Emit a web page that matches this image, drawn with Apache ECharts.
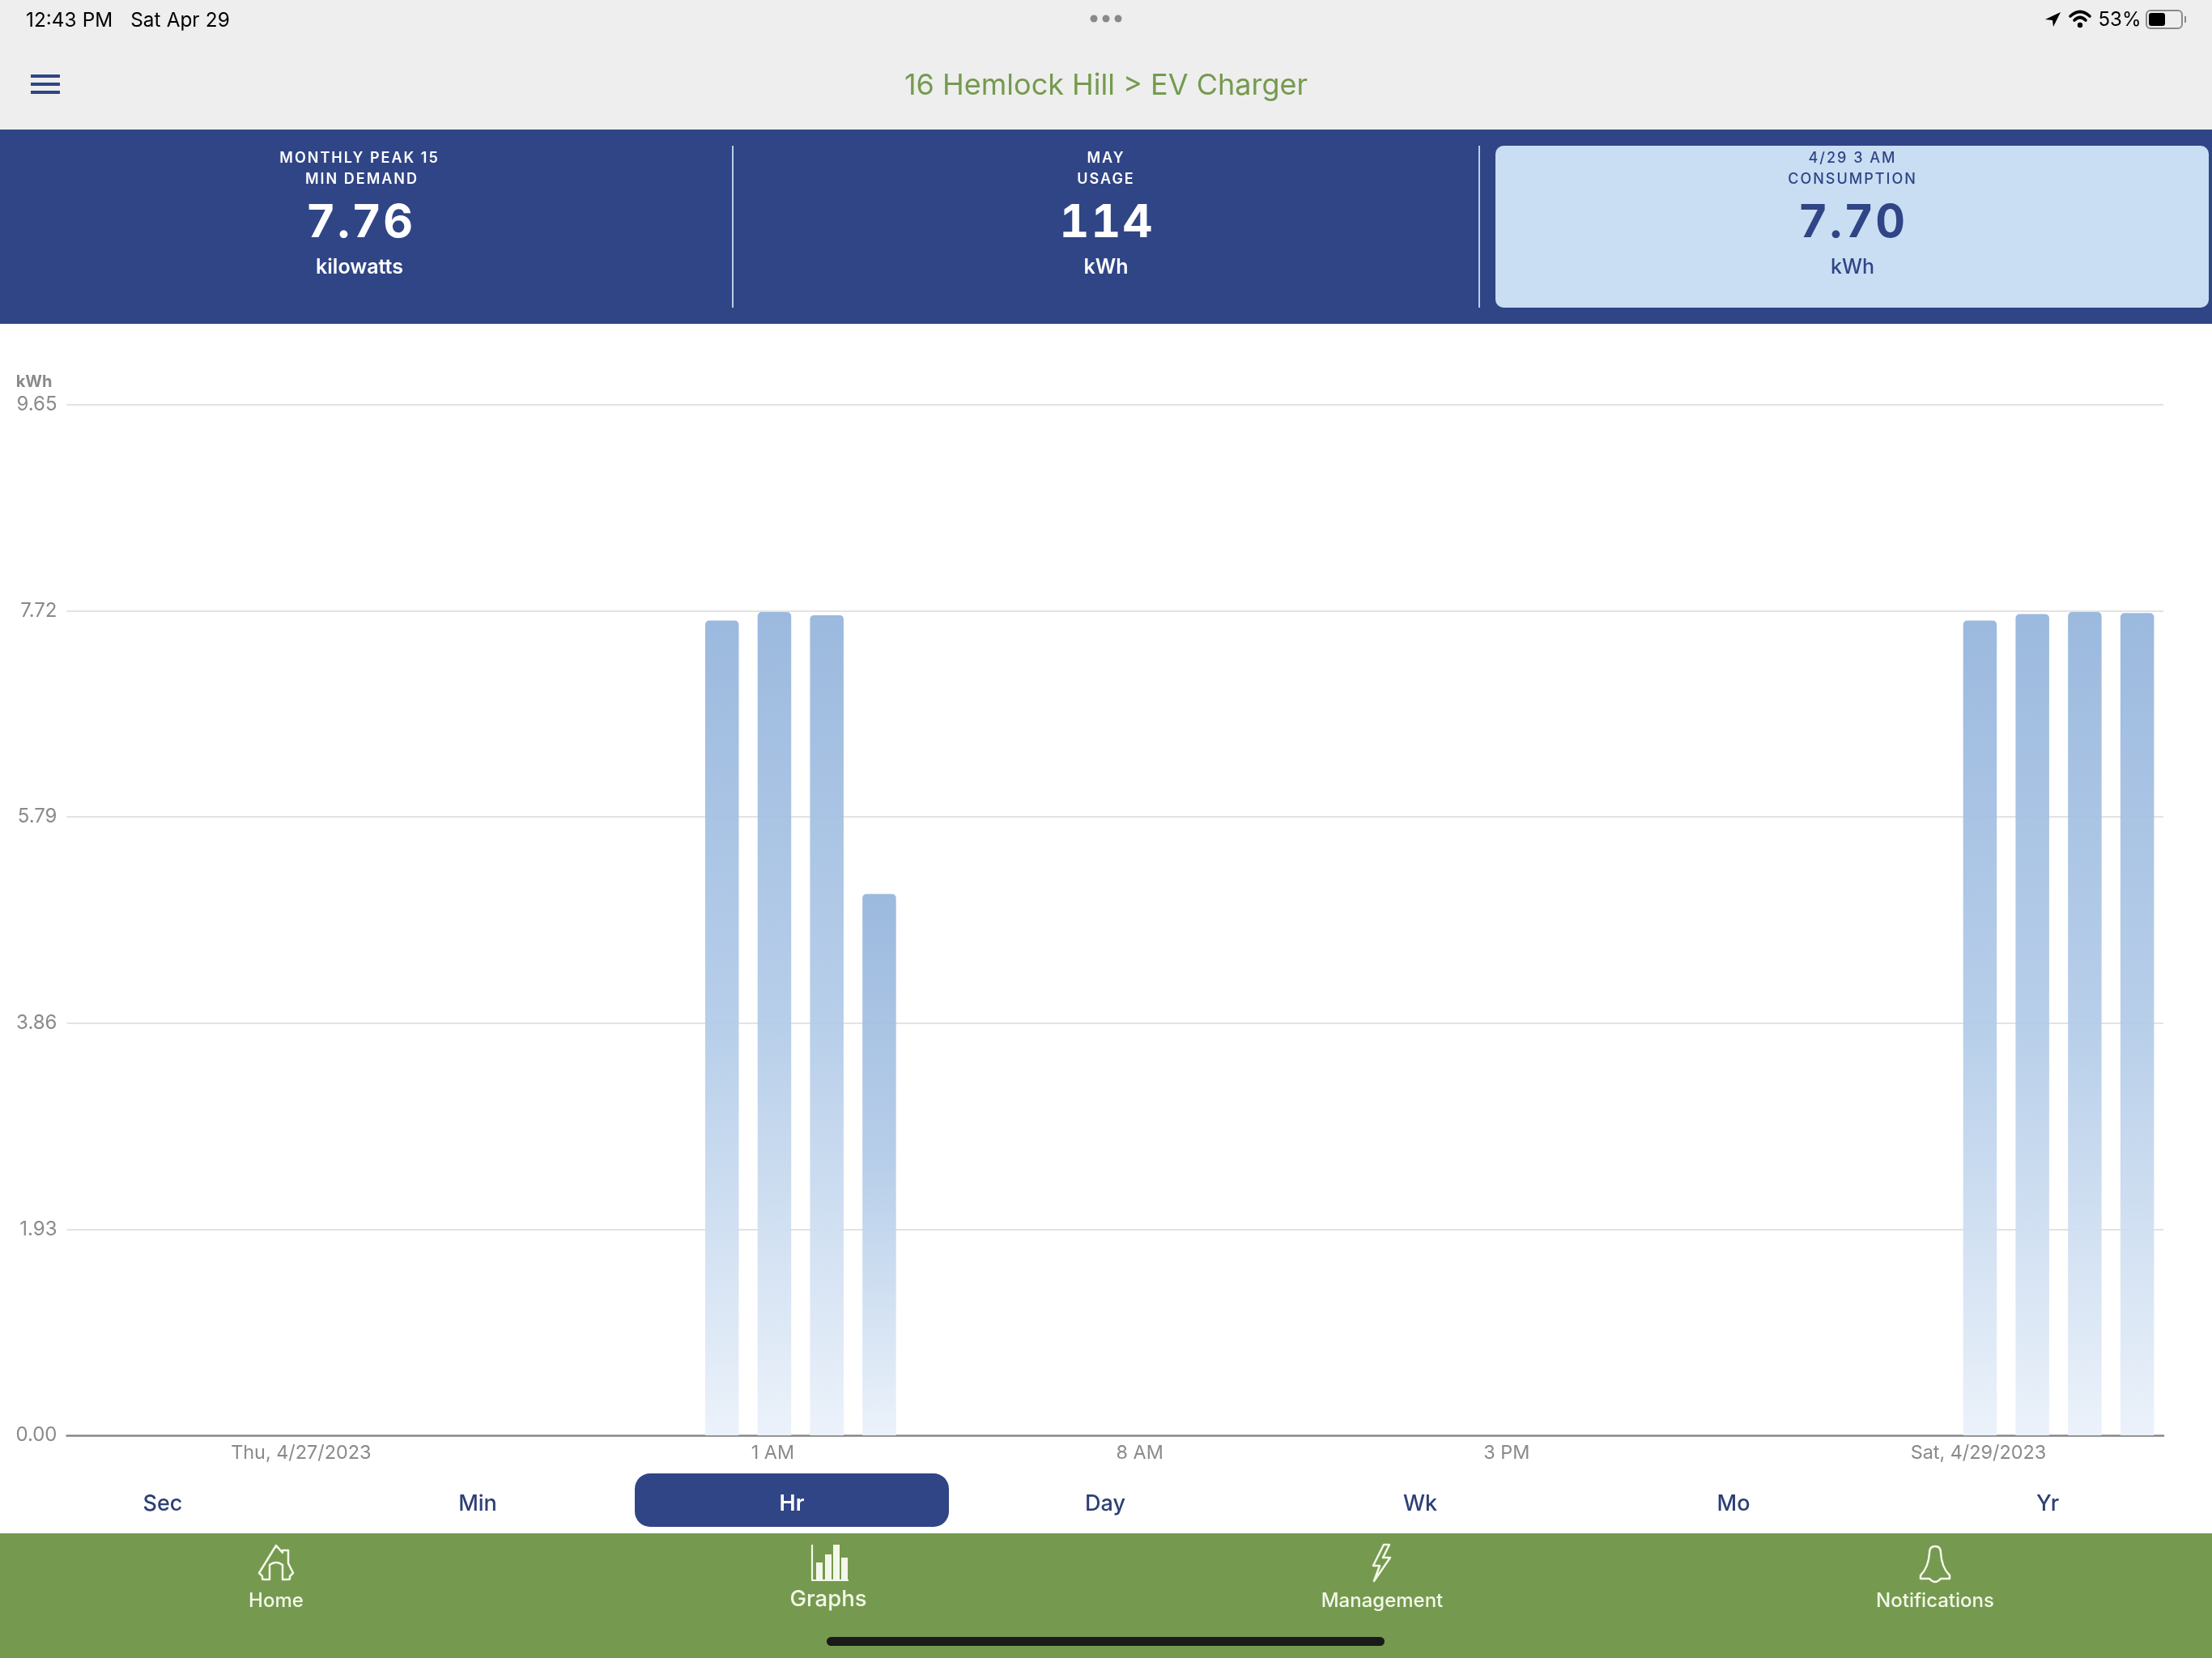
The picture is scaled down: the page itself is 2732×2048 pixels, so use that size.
<!DOCTYPE html>
<html>
<head>
<meta charset="utf-8">
<title>EV Charger</title>
<script src="https://cdn.jsdelivr.net/npm/echarts@6/dist/echarts.min.js"></script>
<style>
html,body{margin:0;padding:0;background:#fff;width:2732px;height:2048px;overflow:hidden;font-family:Inter,"Noto Sans",sans-serif}
#chart{position:absolute;left:0;top:0;width:2732px;height:2048px}
.abs{position:absolute}
.c{position:absolute;transform:translate(-50%,-50%);white-space:nowrap;text-align:center}
.card-title{font-size:18px;font-weight:600;letter-spacing:2px}
.card-value{font-size:57px;font-weight:700;letter-spacing:2.2px;font-feature-settings:"tnum"}
.card-unit{font-size:25px;font-weight:600}
.tab{font-size:27px;font-weight:500;color:#2d3f75}
.nav{font-size:24px;font-weight:500;color:#f4f8ea}
.status{font-size:24px;color:#000}
</style>
</head>
<body>
<div class="abs" style="left:0;top:0;width:2732px;height:160px;background:#eeeeee"></div>
<div class="abs" style="left:0;top:160px;width:2732px;height:240px;background:#304586"></div>
<div class="abs" style="left:1847px;top:180px;width:881px;height:200px;background:#c9def3;border-radius:10px"></div>
<div class="abs" style="left:904px;top:180px;width:2px;height:200px;background:#b9cde8"></div>
<div class="abs" style="left:1826px;top:180px;width:2px;height:200px;background:#b9cde8"></div>
<div class="abs" style="left:784px;top:1820px;width:388px;height:66px;background:#304586;border-radius:19px"></div>
<div class="abs" style="left:0;top:1894px;width:2732px;height:154px;background:#759a4f"></div>
<div class="abs" style="left:1021px;top:2022px;width:689px;height:11px;background:#1a1a1a;border-radius:6px"></div>
<div id="chart"></div>

<div class="abs status" style="left:32px;top:9px;white-space:pre;font-size:24.3px;word-spacing:0.5px">12:43 PM   Sat Apr 29</div>
<div class="c status" style="left:2618px;top:23px">53%</div>
<svg class="abs" style="left:0;top:0" width="2732" height="160">
  <g fill="#8a8a8a"><circle cx="1351" cy="23" r="4.5"/><circle cx="1366" cy="23" r="4.5"/><circle cx="1381" cy="23" r="4.5"/></g>
  <path d="M2545 15 L2526 24 L2535 25 L2536 33 Z" fill="#000"/>
  <g fill="none" stroke="#000" stroke-width="3.6" stroke-linecap="round"><path d="M2557 20 Q2569 9 2581 20"/><path d="M2562 25 Q2569 18 2576 25"/></g>
  <circle cx="2569" cy="31" r="3.2" fill="#000"/>
  <rect x="2651" y="13" width="44" height="22" rx="5" fill="none" stroke="#8a8a8a" stroke-width="2"/>
  <rect x="2654" y="16" width="20" height="16" rx="3" fill="#000"/>
  <rect x="2698" y="20" width="2" height="8" fill="#8a8a8a"/>
  <g fill="#304586"><rect x="38" y="92" width="36" height="4"/><rect x="38" y="102" width="36" height="4"/><rect x="38" y="112" width="36" height="4"/></g>
</svg>
<div class="c" style="left:1366px;top:104px;font-size:36px;color:#759a4f">16 Hemlock Hill &gt; EV Charger</div>

<div class="c card-title" style="left:444px;top:194px;color:#fff">MONTHLY PEAK 15</div>
<div class="c card-title" style="left:447px;top:220px;color:#fff">MIN DEMAND</div>
<div class="c card-value" style="left:445px;top:272px;color:#fff">7.76</div>
<div class="c card-unit" style="left:444px;top:329px;color:#fff">kilowatts</div>

<div class="c card-title" style="left:1366px;top:194px;color:#fff">MAY</div>
<div class="c card-title" style="left:1366px;top:220px;color:#fff">USAGE</div>
<div class="c card-value" style="left:1367px;top:272px;color:#fff">114</div>
<div class="c card-unit" style="left:1366px;top:329px;color:#fff">kWh</div>

<div class="c card-title" style="left:2288px;top:194px;color:#304586;font-weight:500">4/29 3 AM</div>
<div class="c card-title" style="left:2288px;top:220px;color:#304586;font-weight:500">CONSUMPTION</div>
<div class="c card-value" style="left:2288px;top:272px;color:#304586">7.70</div>
<div class="c card-unit" style="left:2288px;top:329px;color:#304586;font-weight:500">kWh</div>

<div class="c tab" style="left:201px;top:1856px">Sec</div>
<div class="c tab" style="left:590px;top:1856px">Min</div>
<div class="c tab" style="left:978px;top:1856px;color:#fff;font-weight:600">Hr</div>
<div class="c tab" style="left:1365px;top:1856px">Day</div>
<div class="c tab" style="left:1754px;top:1856px">Wk</div>
<div class="c tab" style="left:2141px;top:1856px">Mo</div>
<div class="c tab" style="left:2529px;top:1856px">Yr</div>

<svg class="abs" style="left:0;top:1894px" width="2732" height="70" fill="none" stroke="#f4f8ea" stroke-width="2.5" stroke-linejoin="round">
  <path d="M341 16 L320 50 L324 54 L324 57 Q324 58 326 58 L333 58 L333 40 Q341 34 349 40 L349 58 L356 58 Q358 58 358 57 L358 54 L362 50 L356 38 L356 22 L349 22 L349 25 Z" transform="translate(0,-1)"/>
  <g stroke-width="2.2"><path d="M1003 14 L1003 58 L1048 58"/></g>
  <g fill="#f4f8ea" stroke="none"><rect x="1008" y="36" width="8" height="22"/><rect x="1019" y="26" width="8" height="32"/><rect x="1029" y="14" width="8" height="44"/><rect x="1039" y="30" width="8" height="28"/></g>
  <path d="M1709 14 L1696 40 L1704 40 L1697 59 L1717 30 L1708 30 L1716 14 Z"/>
  <path d="M2390 16 Q2383 16 2383 24 Q2382 42 2372 52 L2372 56 L2383 56 Q2390 64 2397 56 L2408 56 L2408 52 Q2398 42 2397 24 Q2397 16 2390 16 Z"/>
</svg>
<div class="c nav" style="left:341px;top:1976px">Home</div>
<div class="c nav" style="left:1023px;top:1974px;font-size:27.5px">Graphs</div>
<div class="c nav" style="left:1707px;top:1976px">Management</div>
<div class="c nav" style="left:2390px;top:1976px">Notifications</div>

<script>
var hours = [
  '4/27 12 PM','4/27 1 PM','4/27 2 PM','4/27 3 PM','4/27 4 PM','4/27 5 PM','4/27 6 PM','4/27 7 PM','4/27 8 PM','4/27 9 PM','4/27 10 PM','4/27 11 PM',
  '4/28 12 AM','4/28 1 AM','4/28 2 AM','4/28 3 AM','4/28 4 AM','4/28 5 AM','4/28 6 AM','4/28 7 AM','4/28 8 AM','4/28 9 AM','4/28 10 AM','4/28 11 AM',
  '4/28 12 PM','4/28 1 PM','4/28 2 PM','4/28 3 PM','4/28 4 PM','4/28 5 PM','4/28 6 PM','4/28 7 PM','4/28 8 PM','4/28 9 PM','4/28 10 PM','4/28 11 PM',
  '4/29 12 AM','4/29 1 AM','4/29 2 AM','4/29 3 AM'
];
var kwh = [
  null,null,null,null,null,null,null,null,null,null,null,null,
  7.63,7.71,7.68,5.07,null,null,null,null,null,null,null,null,
  null,null,null,null,null,null,null,null,null,null,null,null,
  7.63,7.69,7.71,7.70
];
var tickHours  = ['4/27 4 PM','4/28 1 AM','4/28 8 AM','4/28 3 PM','4/29 12 AM'];
var tickLabels = ['Thu, 4/27/2023','1 AM','8 AM','3 PM','Sat, 4/29/2023'];
var yMax = 9.65;
var yStep = 1.93;

var showTick = function (index, value) { return tickHours.indexOf(value) >= 0; };
var chart = echarts.init(document.getElementById('chart'), null, {renderer: 'canvas', width: 2732, height: 2048});
chart.setOption({
  animation: false,
  backgroundColor: 'transparent',
  textStyle: {fontFamily: 'Inter'},
  grid: {left: 82.5, right: 60, top: 500, bottom: 275, containLabel: false},
  xAxis: {
    type: 'category',
    data: hours,
    boundaryGap: true,
    axisLine: {lineStyle: {color: '#888888', width: 2.5}},
    axisTick: {alignWithLabel: true, interval: showTick, length: 6, lineStyle: {color: '#999999', width: 1}},
    axisLabel: {
      interval: showTick,
      margin: 10.5,
      fontSize: 23.4,
      color: '#8a8a8a',
      fontFamily: 'Inter',
      padding: [0, 4, 0, 0],
      formatter: function (v) { return tickLabels[tickHours.indexOf(v)]; }
    },
    splitLine: {show: false}
  },
  yAxis: {
    type: 'value',
    min: 0,
    max: yMax,
    interval: yStep,
    name: 'kWh',
    nameLocation: 'end',
    nameGap: 18,
    nameTextStyle: {align: 'right', padding: [0, 18, 0, 0], color: '#8a8a8a', fontSize: 20, fontWeight: 'bold', fontFamily: 'Inter'},
    axisLine: {show: false},
    axisTick: {show: false},
    axisLabel: {margin: 12, fontSize: 24, padding: [3, 0, 0, 0], color: '#8a8a8a', fontFamily: 'Inter', formatter: function (v) { return v.toFixed(2); }},
    splitLine: {lineStyle: {color: '#e3e3e3', width: 2}}
  },
  series: [{
    type: 'bar',
    data: kwh,
    barWidth: 41.5,
    itemStyle: {
      borderRadius: [5, 5, 0, 0],
      color: new echarts.graphic.LinearGradient(0, 0, 0, 1, [
        {offset: 0, color: 'rgba(148,180,220,0.93)'},
        {offset: 0.5, color: 'rgba(178,203,232,0.93)'},
        {offset: 1, color: 'rgba(234,241,250,0.93)'}
      ])
    }
  }]
});
</script>
</body>
</html>
